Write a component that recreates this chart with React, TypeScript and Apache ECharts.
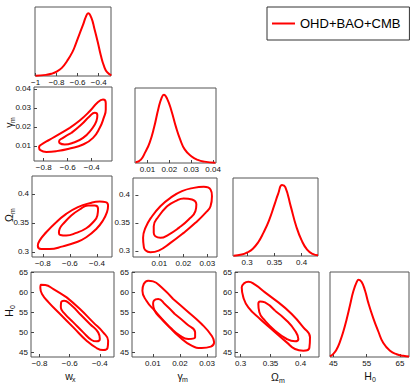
import React, { useEffect, useRef } from 'react';
import * as echarts from 'echarts';

const FONT = '"Liberation Sans", Arial, Helvetica, sans-serif';
const RED = '#ff0000';
const LEGEND_NAME = 'OHD+BAO+CMB';

// ---- tick labels ----
const wxTicksDiag = [-1, -0.8, -0.6, -0.4];
const wxTicks = [-0.8, -0.6, -0.4];
const gmTicksDiag = [0.01, 0.02, 0.03, 0.04];
const gmTicks = [0.01, 0.02, 0.03];
const gmTicksY = [0.01, 0.02, 0.03, 0.04];
const omTicks = [0.3, 0.35, 0.4];
const h0Ticks = [45, 50, 55, 60, 65];
const h0TicksDiag = [45, 55, 65];

// ---- 1D marginal posteriors (normalised to peak 1) ----
const wxMargX = [-1.0, -0.9, -0.85, -0.8, -0.75, -0.7, -0.65, -0.62, -0.58, -0.55, -0.52, -0.5, -0.47, -0.44, -0.41, -0.38, -0.35, -0.32, -0.28];
const wxMargP = [0.005, 0.018, 0.035, 0.07, 0.13, 0.24, 0.38, 0.5, 0.68, 0.81, 0.95, 1.0, 0.93, 0.75, 0.55, 0.33, 0.16, 0.06, 0.01];

const gmMargX = [0.0046, 0.007, 0.009, 0.011, 0.013, 0.015, 0.0165, 0.0175, 0.019, 0.021, 0.023, 0.025, 0.027, 0.03, 0.033, 0.036, 0.041];
const gmMargP = [0.01, 0.05, 0.16, 0.3, 0.52, 0.8, 0.96, 1.0, 0.94, 0.76, 0.53, 0.34, 0.2, 0.1, 0.045, 0.02, 0.005];

const omMargX = [0.275, 0.29, 0.3, 0.31, 0.32, 0.33, 0.34, 0.35, 0.357, 0.364, 0.37, 0.38, 0.39, 0.4, 0.41, 0.42, 0.43];
const omMargP = [0.005, 0.02, 0.05, 0.1, 0.19, 0.33, 0.5, 0.72, 0.88, 1.0, 0.97, 0.7, 0.42, 0.22, 0.09, 0.03, 0.01];

const h0MargX = [44, 45, 46, 47, 48, 49, 50, 51, 52, 52.6, 53.5, 54.5, 55.5, 57, 58.5, 60, 62, 64, 66, 67.7];
const h0MargP = [0.01, 0.04, 0.1, 0.2, 0.33, 0.49, 0.67, 0.85, 0.97, 1.0, 0.97, 0.86, 0.7, 0.5, 0.33, 0.18, 0.08, 0.035, 0.015, 0.005];

// ---- 2D confidence contours (outer = 2 sigma, inner = 1 sigma) ----
const wxGmOuter = [[-0.583, 0.0195], [-0.5, 0.0233], [-0.417, 0.0282], [-0.347, 0.0331], [-0.306, 0.0344], [-0.283, 0.0326], [-0.283, 0.0291], [-0.3, 0.0247], [-0.333, 0.0195], [-0.389, 0.0142], [-0.472, 0.0107], [-0.583, 0.0086], [-0.694, 0.0072], [-0.778, 0.0068], [-0.828, 0.0077], [-0.839, 0.0093], [-0.819, 0.0107], [-0.75, 0.0133], [-0.667, 0.0163]];
const wxGmInner = [[-0.569, 0.0168], [-0.486, 0.0212], [-0.417, 0.0256], [-0.375, 0.0274], [-0.353, 0.0261], [-0.361, 0.023], [-0.403, 0.0186], [-0.472, 0.0142], [-0.556, 0.0116], [-0.625, 0.0107], [-0.667, 0.0114], [-0.672, 0.0124], [-0.639, 0.0142]];

const wxOmOuter = [[-0.701, 0.3511], [-0.627, 0.3656], [-0.541, 0.3771], [-0.454, 0.3841], [-0.38, 0.387], [-0.336, 0.3858], [-0.318, 0.38], [-0.326, 0.3685], [-0.356, 0.354], [-0.405, 0.3395], [-0.479, 0.3251], [-0.553, 0.3164], [-0.652, 0.3094], [-0.75, 0.3048], [-0.812, 0.3048], [-0.837, 0.3106], [-0.824, 0.3193], [-0.775, 0.3337]];
const wxOmInner = [[-0.59, 0.3627], [-0.528, 0.3731], [-0.466, 0.38], [-0.417, 0.38], [-0.392, 0.3743], [-0.397, 0.3627], [-0.429, 0.3511], [-0.479, 0.3407], [-0.553, 0.3326], [-0.627, 0.328], [-0.671, 0.3291], [-0.681, 0.3326], [-0.676, 0.3395], [-0.639, 0.3511]];

const gmOmOuter = [[0.0104, 0.3797], [0.0146, 0.3946], [0.0194, 0.4065], [0.0243, 0.4124], [0.0285, 0.4142], [0.0313, 0.4095], [0.0319, 0.3976], [0.0313, 0.3797], [0.0292, 0.3678], [0.025, 0.35], [0.0201, 0.3321], [0.0146, 0.3142], [0.0097, 0.3005], [0.00625, 0.2976], [0.00417, 0.3011], [0.00347, 0.3083], [0.0032, 0.3232], [0.00417, 0.341], [0.00695, 0.3618]];
const gmOmInner = [[0.0132, 0.3797], [0.0167, 0.3886], [0.0201, 0.3934], [0.0236, 0.3916], [0.0254, 0.3827], [0.025, 0.3708], [0.0222, 0.3559], [0.0181, 0.341], [0.0139, 0.3291], [0.0104, 0.3232], [0.0083, 0.3261], [0.00764, 0.3321], [0.00764, 0.344], [0.0097, 0.3618]];

const wxH0Outer = [[-0.62, 58.74], [-0.532, 55.84], [-0.444, 52.52], [-0.378, 50.03], [-0.345, 47.96], [-0.349, 46.14], [-0.378, 45.64], [-0.422, 46.14], [-0.488, 47.96], [-0.576, 51.28], [-0.664, 54.59], [-0.74, 57.49], [-0.784, 59.57], [-0.795, 61.06], [-0.791, 61.89], [-0.762, 61.81], [-0.708, 60.81]];
const wxH0Inner = [[-0.532, 54.59], [-0.466, 52.11], [-0.411, 50.03], [-0.4, 48.38], [-0.422, 47.79], [-0.455, 48.13], [-0.51, 50.03], [-0.576, 52.52], [-0.631, 54.59], [-0.659, 56.25], [-0.657, 57.49], [-0.637, 57.91], [-0.598, 57.08]];

const gmH0Outer = [[0.0175, 58.33], [0.0225, 55.42], [0.028, 52.11], [0.0317, 49.2], [0.0326, 47.54], [0.0314, 46.47], [0.028, 46.14], [0.0243, 46.72], [0.02, 48.79], [0.0151, 52.11], [0.0107, 55.42], [0.00765, 57.91], [0.00617, 60.4], [0.00667, 62.06], [0.00827, 62.89], [0.01012, 62.72], [0.0132, 61.23]];
const gmH0Inner = [[0.0181, 54.59], [0.0225, 52.11], [0.0256, 50.03], [0.0256, 48.79], [0.0231, 48.37], [0.02, 49.2], [0.0163, 51.28], [0.0126, 53.76], [0.0107, 55.42], [0.0101, 57.08], [0.0104, 57.91], [0.012, 58.33], [0.0144, 57.08]];

const omH0Outer = [[0.3631, 57.49], [0.3853, 54.59], [0.4047, 51.28], [0.4158, 48.79], [0.4147, 46.14], [0.4047, 45.47], [0.3908, 45.89], [0.377, 47.54], [0.3547, 50.45], [0.3325, 53.35], [0.313, 56.25], [0.3047, 58.74], [0.302, 61.23], [0.3058, 62.22], [0.313, 62.64], [0.3242, 61.89], [0.3408, 59.98]];
const omH0Inner = [[0.3575, 55.42], [0.377, 52.94], [0.3908, 50.45], [0.3964, 48.38], [0.3908, 47.79], [0.377, 48.38], [0.3575, 50.45], [0.3408, 52.94], [0.3314, 55.01], [0.3297, 57.08], [0.3325, 57.74], [0.3408, 57.49]];

const zip = (xs: number[], ys: number[]) => xs.map((x, i) => [x, ys[i]]);

type Panel = {
  box: [number, number, number, number];
  x: [number, number];
  y: [number, number];
  xt: number[];
  yt: number[] | null;
  curves: number[][][];
  closed: boolean;
};

const panels: Panel[] = [
  { box: [35, 7, 76, 69], x: [-1.005, -0.283], y: [0, 1.1], xt: wxTicksDiag, yt: null, curves: [zip(wxMargX, wxMargP)], closed: false },
  { box: [34, 87, 78, 74], x: [-0.881, -0.231], y: [0.002, 0.041], xt: wxTicks, yt: gmTicksY, curves: [wxGmOuter, wxGmInner], closed: true },
  { box: [135, 88, 81, 75], x: [0.0043, 0.0413], y: [0, 1.1], xt: gmTicksDiag, yt: null, curves: [zip(gmMargX, gmMargP)], closed: false },
  { box: [32, 176, 80, 81], x: [-0.88, -0.289], y: [0.291, 0.431], xt: wxTicks, yt: omTicks, curves: [wxOmOuter, wxOmInner], closed: true },
  { box: [133, 178, 84, 79], x: [-0.001, 0.034], y: [0.289, 0.43], xt: gmTicks, yt: omTicks, curves: [gmOmOuter, gmOmInner], closed: true },
  { box: [233, 178, 85, 78], x: [0.274, 0.43], y: [0, 1.1], xt: omTicks, yt: null, curves: [zip(omMargX, omMargP)], closed: false },
  { box: [31, 272, 83, 85], x: [-0.857, -0.306], y: [43.9, 65.05], xt: wxTicks, yt: h0Ticks, curves: [wxH0Outer, wxH0Inner], closed: true },
  { box: [132, 272, 84, 85], x: [0.00233, 0.0333], y: [43.9, 65.05], xt: gmTicks, yt: h0Ticks, curves: [gmH0Outer, gmH0Inner], closed: true },
  { box: [235, 272, 84, 85], x: [0.2908, 0.4308], y: [43.9, 65.05], xt: omTicks, yt: h0Ticks, curves: [omH0Outer, omH0Inner], closed: true },
  { box: [330, 272, 79, 85], x: [44, 67.7], y: [0, 1.1], xt: h0TicksDiag, yt: null, curves: [zip(h0MargX, h0MargP)], closed: false },
];

const fmt = (v: number) => String(parseFloat(v.toFixed(4))).replace('-', '\u2212');

const labelStyle = { fontSize: 8, color: '#111', fontFamily: FONT };

function axisName(main: string, sub: string, x: number, y: number, vertical: boolean, subDx: number) {
  return {
    type: 'group',
    x,
    y,
    rotation: vertical ? Math.PI / 2 : 0,
    silent: true,
    children: [
      { type: 'text', x: 0, y: 0, style: { text: main, fontSize: 10.5, fontFamily: FONT, fill: '#111', align: 'center', verticalAlign: 'middle' } },
      { type: 'text', x: subDx, y: 3, style: { text: sub, fontSize: 7, fontFamily: FONT, fill: '#111', align: 'left', verticalAlign: 'middle' } },
    ],
  };
}

export default function App() {
  const ref = useRef<HTMLDivElement>(null);
  useEffect(() => {
    if (!ref.current) return;
    const chart = echarts.init(ref.current, undefined, { renderer: 'svg' });
    const grid: any[] = [];
    const xAxis: any[] = [];
    const yAxis: any[] = [];
    const series: any[] = [];
    panels.forEach((p, i) => {
      grid.push({ left: p.box[0], top: p.box[1], width: p.box[2], height: p.box[3], show: true, borderColor: '#555', borderWidth: 1, backgroundColor: 'transparent' });
      xAxis.push({
        type: 'value', gridIndex: i, min: p.x[0], max: p.x[1],
        axisLine: { show: false }, splitLine: { show: false },
        axisTick: { show: true, inside: true, length: 3, customValues: p.xt, lineStyle: { color: '#444' } },
        axisLabel: { show: true, customValues: p.xt, formatter: fmt, margin: 2, ...labelStyle },
      });
      yAxis.push({
        type: 'value', gridIndex: i, min: p.y[0], max: p.y[1],
        axisLine: { show: false }, splitLine: { show: false },
        axisTick: p.yt ? { show: true, inside: true, length: 3, customValues: p.yt, lineStyle: { color: '#444' } } : { show: false },
        axisLabel: p.yt ? { show: true, customValues: p.yt, formatter: fmt, margin: 3, ...labelStyle } : { show: false },
      });
      p.curves.forEach((c) => {
        series.push({
          type: 'line', name: LEGEND_NAME, xAxisIndex: i, yAxisIndex: i,
          data: p.closed ? [...c, c[0]] : c,
          smooth: 0.5, symbol: 'none', silent: true,
          lineStyle: { color: RED, width: 2 }, itemStyle: { color: RED },
        });
      });
    });

    chart.setOption({
      animation: false,
      backgroundColor: '#ffffff',
      grid, xAxis, yAxis, series,
      legend: {
        data: [LEGEND_NAME], left: 267, top: 7, icon: 'rect', itemWidth: 23, itemHeight: 2,
        selectedMode: false, padding: [10, 9, 10, 5], borderColor: '#333', borderWidth: 1,
        textStyle: { fontSize: 13, color: '#000', fontFamily: FONT },
      },
      graphic: [
        axisName('w', 'x', 69, 376, false, 3),
        axisName('\u03b3', 'm', 180, 376, false, 2),
        axisName('\u03a9', 'm', 275, 377, false, 4),
        axisName('H', '0', 368, 376, false, 4),
        axisName('\u03b3', 'm', 9, 125, true, 2),
        axisName('\u03a9', 'm', 9, 218, true, 4),
        axisName('H', '0', 9, 313, true, 4),
      ],
    });
    return () => chart.dispose();
  }, []);
  return <div ref={ref} style={{ position: 'absolute', left: 0, top: 0, width: 415, height: 383 }} />;
}
